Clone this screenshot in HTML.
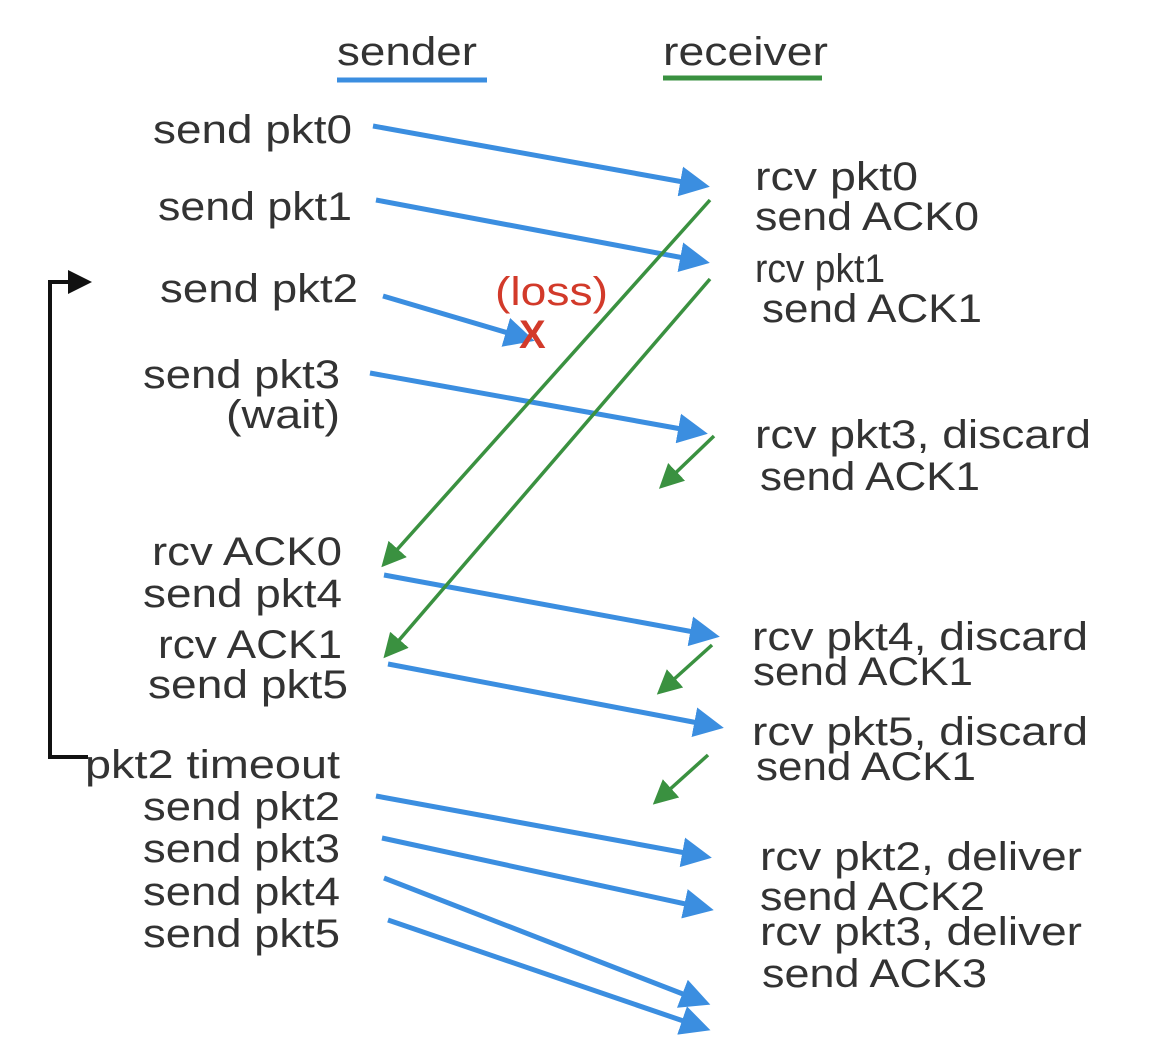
<!DOCTYPE html>
<html><head><meta charset="utf-8"><style>
html,body{margin:0;padding:0;background:#fff;}
svg{display:block;}
text{font-family:"Liberation Sans",sans-serif;font-size:40px;fill:#333;}
</style></head><body>
<svg width="1156" height="1060" viewBox="0 0 1156 1060" xmlns="http://www.w3.org/2000/svg">
<defs>
<marker id="b" markerWidth="6" markerHeight="6" refX="4" refY="3" orient="auto" markerUnits="strokeWidth"><path d="M0,0 L6,3 L0,6 z" fill="#3b8ee0"/></marker>
<marker id="g" markerWidth="7" markerHeight="7" refX="5" refY="3.5" orient="auto" markerUnits="strokeWidth"><path d="M0,0 L7,3.5 L0,7 z" fill="#3a9140"/></marker>
<marker id="k" markerWidth="6" markerHeight="6" refX="3" refY="3" orient="auto" markerUnits="strokeWidth"><path d="M0,0 L6,3 L0,6 z" fill="#111"/></marker>
</defs>
<g lengthAdjust="spacingAndGlyphs">
<text x="337" y="65" textLength="140" lengthAdjust="spacingAndGlyphs">sender</text>
<text x="663" y="65" textLength="165" lengthAdjust="spacingAndGlyphs">receiver</text>

<text x="153" y="143" textLength="199" lengthAdjust="spacingAndGlyphs">send pkt0</text>
<text x="158" y="220" textLength="194" lengthAdjust="spacingAndGlyphs">send pkt1</text>
<text x="160" y="302" textLength="198" lengthAdjust="spacingAndGlyphs">send pkt2</text>
<text x="143" y="388" textLength="197" lengthAdjust="spacingAndGlyphs">send pkt3</text>
<text x="226" y="428" textLength="114" lengthAdjust="spacingAndGlyphs">(wait)</text>
<text x="152" y="565" textLength="190" lengthAdjust="spacingAndGlyphs">rcv ACK0</text>
<text x="143" y="607" textLength="199" lengthAdjust="spacingAndGlyphs">send pkt4</text>
<text x="158" y="658" textLength="184" lengthAdjust="spacingAndGlyphs">rcv ACK1</text>
<text x="148" y="698" textLength="200" lengthAdjust="spacingAndGlyphs">send pkt5</text>
<text x="85" y="778" textLength="255" lengthAdjust="spacingAndGlyphs">pkt2 timeout</text>
<text x="143" y="820" textLength="197" lengthAdjust="spacingAndGlyphs">send pkt2</text>
<text x="143" y="862" textLength="197" lengthAdjust="spacingAndGlyphs">send pkt3</text>
<text x="143" y="905" textLength="197" lengthAdjust="spacingAndGlyphs">send pkt4</text>
<text x="143" y="947" textLength="197" lengthAdjust="spacingAndGlyphs">send pkt5</text>

<text x="755" y="190" textLength="163" lengthAdjust="spacingAndGlyphs">rcv pkt0</text>
<text x="755" y="230" textLength="224" lengthAdjust="spacingAndGlyphs">send ACK0</text>
<text x="755" y="282" textLength="130" lengthAdjust="spacingAndGlyphs">rcv pkt1</text>
<text x="762" y="322" textLength="220" lengthAdjust="spacingAndGlyphs">send ACK1</text>
<text x="755" y="448" textLength="336" lengthAdjust="spacingAndGlyphs">rcv pkt3, discard</text>
<text x="760" y="490" textLength="220" lengthAdjust="spacingAndGlyphs">send ACK1</text>
<text x="752" y="650" textLength="336" lengthAdjust="spacingAndGlyphs">rcv pkt4, discard</text>
<text x="753" y="685" textLength="220" lengthAdjust="spacingAndGlyphs">send ACK1</text>
<text x="752" y="745" textLength="336" lengthAdjust="spacingAndGlyphs">rcv pkt5, discard</text>
<text x="756" y="780" textLength="220" lengthAdjust="spacingAndGlyphs">send ACK1</text>
<text x="760" y="870" textLength="322" lengthAdjust="spacingAndGlyphs">rcv pkt2, deliver</text>
<text x="760" y="910" textLength="225" lengthAdjust="spacingAndGlyphs">send ACK2</text>
<text x="760" y="945" textLength="322" lengthAdjust="spacingAndGlyphs">rcv pkt3, deliver</text>
<text x="762" y="987" textLength="225" lengthAdjust="spacingAndGlyphs">send ACK3</text>
</g>
<line x1="337" y1="80" x2="487" y2="80" stroke="#3b8ee0" stroke-width="5"/>
<line x1="663" y1="78" x2="822" y2="78" stroke="#3a9140" stroke-width="5"/>

<g stroke="#3b8ee0" stroke-width="5" fill="none" marker-end="url(#b)">
<line x1="373" y1="126" x2="700" y2="185"/>
<line x1="376" y1="200" x2="700" y2="261"/>
<line x1="383" y1="296" x2="525" y2="338"/>
<line x1="370" y1="373" x2="698" y2="432"/>
<line x1="384" y1="575" x2="710" y2="635"/>
<line x1="388" y1="664" x2="714" y2="726"/>
<line x1="376" y1="796" x2="702" y2="856"/>
<line x1="382" y1="838" x2="704" y2="908"/>
<line x1="384" y1="878" x2="701" y2="1001"/>
<line x1="388" y1="920" x2="701" y2="1027"/>
</g>
<g stroke="#3a9140" stroke-width="3.5" fill="none" marker-end="url(#g)">
<line x1="710" y1="200" x2="386" y2="562"/>
<line x1="710" y1="279" x2="388" y2="653"/>
<line x1="714" y1="436" x2="664" y2="484"/>
<line x1="712" y1="645" x2="662" y2="690"/>
<line x1="708" y1="755" x2="658" y2="800"/>
</g>
<text x="495" y="305" textLength="113" lengthAdjust="spacingAndGlyphs" style="fill:#d23a2a">(loss)</text>
<text x="519" y="348" style="fill:#d23a2a;font-size:40px;font-weight:bold">X</text>
<polyline points="88,757 50,757 50,282 80,282" stroke="#111" stroke-width="4" fill="none" marker-end="url(#k)"/>
</svg>
</body></html>
